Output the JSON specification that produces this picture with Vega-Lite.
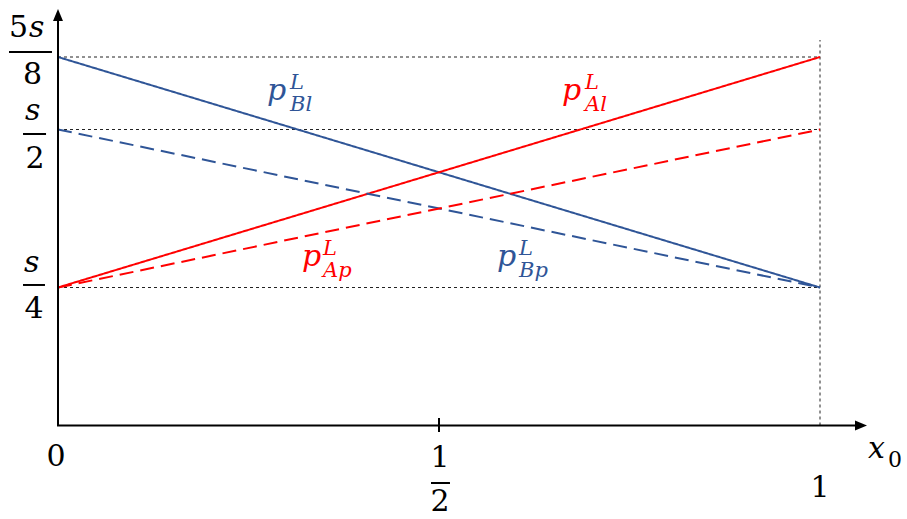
{
  "$schema": "https://vega.github.io/schema/vega-lite/v6.json",
  "width": 907,
  "height": 519,
  "autosize": "none",
  "padding": 0,
  "background": "white",
  "config": {"view": {"stroke": null}},
  "datasets": {
    "grid": [
      {"x": 0, "x2": 1, "y": 0.625, "y2": 0.625},
      {"x": 0, "x2": 1, "y": 0.5, "y2": 0.5},
      {"x": 0, "x2": 1, "y": 0.25, "y2": 0.25},
      {"x": 1, "x2": 1, "y": 0, "y2": 0.6543}
    ],
    "axes": [
      {"x": 0, "x2": 0, "y": 0, "y2": 0.6974},
      {"x": -0.0013, "x2": 1.0538, "y": 0, "y2": 0},
      {"x": 0.5, "x2": 0.5, "y": 0.0136, "y2": -0.0118},
      {"x": -0.0643, "x2": -0.0079, "y": 0.6336, "y2": 0.6336},
      {"x": -0.0459, "x2": -0.0157, "y": 0.4929, "y2": 0.4929},
      {"x": -0.0459, "x2": -0.0171, "y": 0.254, "y2": 0.254},
      {"x": 0.4895, "x2": 0.5144, "y": -0.1042, "y2": -0.1042}
    ],
    "arrows": [
      {"x": 0, "y": 0.6974, "d": "up"},
      {"x": 1.0538, "y": 0, "d": "right"}
    ],
    "lines": [
      {"id": "Bl", "s": "B", "style": "solid", "x": 0, "y": 0.625},
      {"id": "Bl", "s": "B", "style": "solid", "x": 1, "y": 0.25},
      {"id": "Al", "s": "A", "style": "solid", "x": 0, "y": 0.25},
      {"id": "Al", "s": "A", "style": "solid", "x": 1, "y": 0.625},
      {"id": "Bp", "s": "B", "style": "dashed", "x": 0, "y": 0.5},
      {"id": "Bp", "s": "B", "style": "dashed", "x": 1, "y": 0.25},
      {"id": "Ap", "s": "A", "style": "dashed", "x": 0, "y": 0.25},
      {"id": "Ap", "s": "A", "style": "dashed", "x": 1, "y": 0.5}
    ],
    "labels": [
      {"t": "p", "k": "var", "s": "B", "x": 0.2743, "y": 0.5509},
      {"t": "L", "k": "sub", "s": "B", "x": 0.3045, "y": 0.5698},
      {"t": "Bl", "k": "sub", "s": "B", "x": 0.3045, "y": 0.5319},
      {"t": "p", "k": "var", "s": "A", "x": 0.6614, "y": 0.5509},
      {"t": "L", "k": "sub", "s": "A", "x": 0.6916, "y": 0.5698},
      {"t": "Al", "k": "sub", "s": "A", "x": 0.6916, "y": 0.5319},
      {"t": "p", "k": "var", "s": "A", "x": 0.3202, "y": 0.284},
      {"t": "L", "k": "sub", "s": "A", "x": 0.3478, "y": 0.3014},
      {"t": "Ap", "k": "sub", "s": "A", "x": 0.3478, "y": 0.2666},
      {"t": "p", "k": "var", "s": "B", "x": 0.5761, "y": 0.284},
      {"t": "L", "k": "sub", "s": "B", "x": 0.605, "y": 0.3014},
      {"t": "Bp", "k": "sub", "s": "B", "x": 0.605, "y": 0.2666},
      {"t": "5", "k": "num", "s": "K", "x": -0.0518, "y": 0.6595},
      {"t": "s", "k": "var", "s": "K", "x": -0.0381, "y": 0.6595},
      {"t": "8", "k": "num", "s": "K", "x": -0.0335, "y": 0.5784},
      {"t": "s", "k": "var", "s": "K", "x": -0.0433, "y": 0.5164},
      {"t": "2", "k": "num", "s": "K", "x": -0.0302, "y": 0.4391},
      {"t": "s", "k": "var", "s": "K", "x": -0.0446, "y": 0.2745},
      {"t": "4", "k": "num", "s": "K", "x": -0.0315, "y": 0.1947},
      {"t": "0", "k": "num", "s": "K", "x": -0.0026, "y": -0.0734},
      {"t": "1", "k": "num", "s": "K", "x": 1.0, "y": -0.1295},
      {"t": "1", "k": "num", "s": "K", "x": 0.5013, "y": -0.0752},
      {"t": "2", "k": "num", "s": "K", "x": 0.5013, "y": -0.1549},
      {"t": "x", "k": "var", "s": "K", "x": 1.063, "y": -0.0589},
      {"t": "0", "k": "sub0", "s": "K", "x": 1.0892, "y": -0.0752}
    ]
  },
  "layer": [
    {
      "data": {"name": "grid"},
      "mark": {"type": "rule", "color": "#222222", "strokeWidth": 1, "strokeDash": [3, 3]},
      "encoding": {
        "x": {"field": "x", "type": "quantitative", "axis": null, "scale": {"domain": [0, 1], "range": [58, 820], "nice": false, "zero": false}},
        "x2": {"field": "x2"},
        "y": {"field": "y", "type": "quantitative", "axis": null, "scale": {"domain": [-0.2, 0, 0.25, 0.5, 0.625, 0.75], "range": [535.9, 425.5, 287.5, 129.5, 57, -15.5], "nice": false, "zero": false}},
        "y2": {"field": "y2"}
      }
    },
    {
      "data": {"name": "lines"},
      "mark": {"type": "line", "strokeWidth": 2},
      "encoding": {
        "x": {"field": "x", "type": "quantitative", "axis": null, "scale": {"domain": [0, 1], "range": [58, 820], "nice": false, "zero": false}},
        "y": {"field": "y", "type": "quantitative", "axis": null, "scale": {"domain": [-0.2, 0, 0.25, 0.5, 0.625, 0.75], "range": [535.9, 425.5, 287.5, 129.5, 57, -15.5], "nice": false, "zero": false}},
        "detail": {"field": "id"},
        "color": {"field": "s", "type": "nominal", "legend": null, "scale": {"domain": ["B", "A", "K"], "range": ["#2F5597", "#FF0000", "#000000"]}},
        "strokeDash": {"field": "style", "type": "nominal", "legend": null, "scale": {"domain": ["solid", "dashed"], "range": [[1, 0], [14, 7]]}}
      }
    },
    {
      "data": {"name": "axes"},
      "mark": {"type": "rule", "color": "#000000", "strokeWidth": 2},
      "encoding": {
        "x": {"field": "x", "type": "quantitative", "axis": null, "scale": {"domain": [0, 1], "range": [58, 820], "nice": false, "zero": false}},
        "x2": {"field": "x2"},
        "y": {"field": "y", "type": "quantitative", "axis": null, "scale": {"domain": [-0.2, 0, 0.25, 0.5, 0.625, 0.75], "range": [535.9, 425.5, 287.5, 129.5, 57, -15.5], "nice": false, "zero": false}},
        "y2": {"field": "y2"}
      }
    },
    {
      "data": {"name": "arrows"},
      "mark": {"type": "point", "filled": true, "color": "#000000", "opacity": 1, "size": 144, "strokeWidth": 0},
      "encoding": {
        "x": {"field": "x", "type": "quantitative", "axis": null, "scale": {"domain": [0, 1], "range": [58, 820], "nice": false, "zero": false}},
        "y": {"field": "y", "type": "quantitative", "axis": null, "scale": {"domain": [-0.2, 0, 0.25, 0.5, 0.625, 0.75], "range": [535.9, 425.5, 287.5, 129.5, 57, -15.5], "nice": false, "zero": false}},
        "shape": {"field": "d", "type": "nominal", "legend": null, "scale": {"domain": ["up", "right"], "range": ["M0,-1L0.83,1L-0.83,1Z", "M1,0L-1,-0.83L-1,0.83Z"]}}
      }
    },
    {
      "data": {"name": "labels"},
      "transform": [{"filter": "datum.k === 'num'"}],
      "mark": {"type": "text", "font": "DejaVu Serif", "fontSize": 30, "align": "center", "baseline": "alphabetic"},
      "encoding": {
        "x": {"field": "x", "type": "quantitative", "axis": null, "scale": {"domain": [0, 1], "range": [58, 820], "nice": false, "zero": false}},
        "y": {"field": "y", "type": "quantitative", "axis": null, "scale": {"domain": [-0.2, 0, 0.25, 0.5, 0.625, 0.75], "range": [535.9, 425.5, 287.5, 129.5, 57, -15.5], "nice": false, "zero": false}},
        "text": {"field": "t"},
        "color": {"field": "s", "type": "nominal", "legend": null, "scale": {"domain": ["B", "A", "K"], "range": ["#2F5597", "#FF0000", "#000000"]}}
      }
    },
    {
      "data": {"name": "labels"},
      "transform": [{"filter": "datum.k === 'var'"}],
      "mark": {"type": "text", "font": "DejaVu Serif", "fontSize": 30, "fontStyle": "italic", "align": "left", "baseline": "alphabetic"},
      "encoding": {
        "x": {"field": "x", "type": "quantitative", "axis": null, "scale": {"domain": [0, 1], "range": [58, 820], "nice": false, "zero": false}},
        "y": {"field": "y", "type": "quantitative", "axis": null, "scale": {"domain": [-0.2, 0, 0.25, 0.5, 0.625, 0.75], "range": [535.9, 425.5, 287.5, 129.5, 57, -15.5], "nice": false, "zero": false}},
        "text": {"field": "t"},
        "color": {"field": "s", "type": "nominal", "legend": null, "scale": {"domain": ["B", "A", "K"], "range": ["#2F5597", "#FF0000", "#000000"]}}
      }
    },
    {
      "data": {"name": "labels"},
      "transform": [{"filter": "datum.k === 'sub'"}],
      "mark": {"type": "text", "font": "DejaVu Serif", "fontSize": 21, "fontStyle": "italic", "align": "left", "baseline": "alphabetic"},
      "encoding": {
        "x": {"field": "x", "type": "quantitative", "axis": null, "scale": {"domain": [0, 1], "range": [58, 820], "nice": false, "zero": false}},
        "y": {"field": "y", "type": "quantitative", "axis": null, "scale": {"domain": [-0.2, 0, 0.25, 0.5, 0.625, 0.75], "range": [535.9, 425.5, 287.5, 129.5, 57, -15.5], "nice": false, "zero": false}},
        "text": {"field": "t"},
        "color": {"field": "s", "type": "nominal", "legend": null, "scale": {"domain": ["B", "A", "K"], "range": ["#2F5597", "#FF0000", "#000000"]}}
      }
    },
    {
      "data": {"name": "labels"},
      "transform": [{"filter": "datum.k === 'sub0'"}],
      "mark": {"type": "text", "font": "DejaVu Serif", "fontSize": 22, "align": "left", "baseline": "alphabetic"},
      "encoding": {
        "x": {"field": "x", "type": "quantitative", "axis": null, "scale": {"domain": [0, 1], "range": [58, 820], "nice": false, "zero": false}},
        "y": {"field": "y", "type": "quantitative", "axis": null, "scale": {"domain": [-0.2, 0, 0.25, 0.5, 0.625, 0.75], "range": [535.9, 425.5, 287.5, 129.5, 57, -15.5], "nice": false, "zero": false}},
        "text": {"field": "t"},
        "color": {"field": "s", "type": "nominal", "legend": null, "scale": {"domain": ["B", "A", "K"], "range": ["#2F5597", "#FF0000", "#000000"]}}
      }
    }
  ]
}
